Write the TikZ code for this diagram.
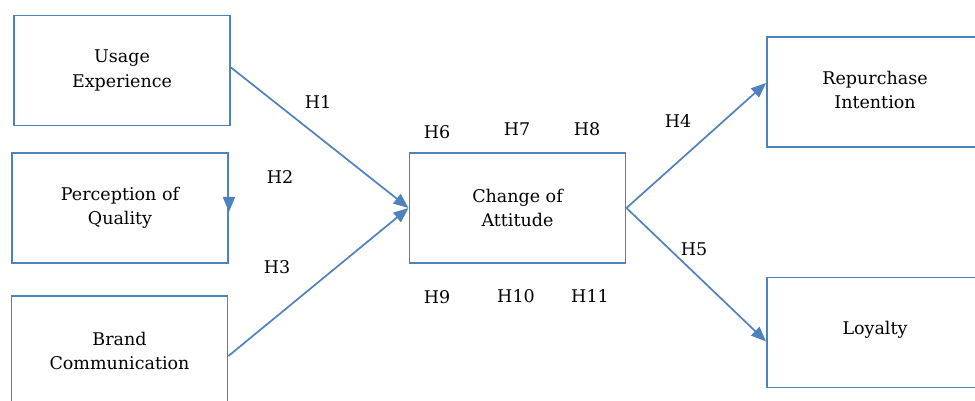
\documentclass[tikz,border=0pt]{standalone}
\usepackage{fontspec}
\setmainfont{DejaVu Serif}
\usetikzlibrary{arrows.meta,calc}
\definecolor{boxblue}{RGB}{79,129,189}
\begin{document}
\begin{tikzpicture}[x=1pt,y=1pt,
  box/.style={draw=boxblue,line width=1.9pt,minimum width=216pt,minimum height=110pt,inner sep=0pt,align=center,font=\fontsize{17.5}{24.5}\selectfont},
  conn/.style={draw=boxblue,line width=1.7pt,-{Triangle[length=15pt,width=12pt]}},
  lab/.style={inner sep=0pt,font=\fontsize{17.5}{20}\selectfont}]
\useasboundingbox (0,0) rectangle (975,401);
\node[box] (ue) at (122,330.5) {Usage\\Experience};
\node[box] (pq) at (120,193) {Perception of\\Quality};
\node[box] (bc) at (119.5,50) {Brand\\Communication};
\node[box] (coa) at (517.5,193) {Change of\\Attitude};
\node[box] (ri) at (875,309) {\raisebox{4pt}{Repurchase}\\\raisebox{4pt}{Intention}};
\node[box] (lo) at (875,68.5) {\raisebox{9pt}{Loyalty}};
\coordinate (pqa) at ($(pq.east)+(0,10)$);
\coordinate (pqb) at ($(pq.east)+(0,-4)$);
\draw[conn] (pqa) -- (pqb);
\draw[conn] ($(ue.east)+(0,3)$) -- (coa.west);
\draw[conn] ($(bc.east)+(0,-5)$) -- (coa.west);
\draw[conn] (coa.east) -- ($(ri.west)+(0,9)$);
\draw[conn] (coa.east) -- ($(lo.west)+(0,-9)$);
\node[lab] (h1) at (318,299) {H1};
\node[lab] (h2) at (280,224) {H2};
\node[lab] (h3) at (277,134) {H3};
\node[lab] (h4) at (678,280) {H4};
\node[lab] (h5) at (694,152) {H5};
\node[lab] (h6) at (437,269) {H6};
\node[lab] (h7) at (517,272) {H7};
\node[lab] (h8) at (587,272) {H8};
\node[lab] (h9) at (437,104) {H9};
\node[lab] (h10) at (516,105) {H10};
\node[lab] (h11) at (590,105) {H11};
\end{tikzpicture}
\end{document}
